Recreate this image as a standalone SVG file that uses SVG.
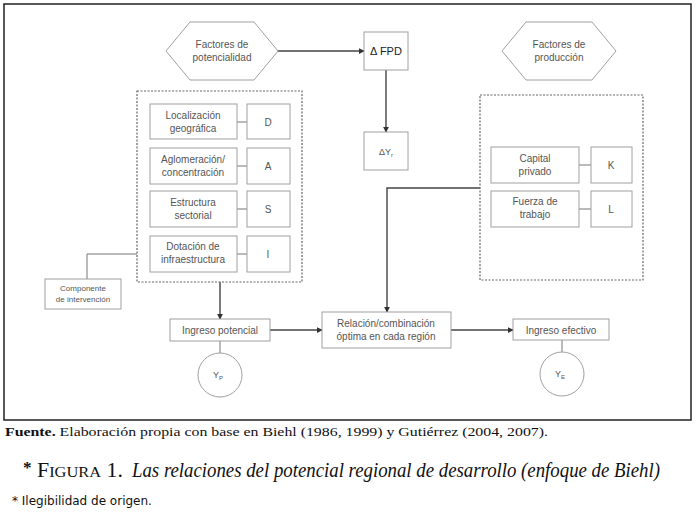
<svg xmlns="http://www.w3.org/2000/svg" width="697" height="520" viewBox="0 0 697 520">
<defs>
<style>
.box{fill:#fff;stroke:#a0a0a0;stroke-width:1}
.dash{fill:none;stroke:#666;stroke-width:1.2;stroke-dasharray:2,1.5}
.t{font-family:"Liberation Sans",Arial,sans-serif;font-size:10px;fill:#555;text-anchor:middle}
.ln{fill:none;stroke:#777;stroke-width:1}
.ar{fill:none;stroke:#444;stroke-width:1.4}
.serif{font-family:"Liberation Serif","Times New Roman",serif;fill:#111}
</style>
<marker id="ah" viewBox="0 0 8 8" refX="7" refY="4" markerWidth="6" markerHeight="6" orient="auto" markerUnits="userSpaceOnUse">
<path d="M0,0 L8,4 L0,8 z" fill="#333"/>
</marker>
</defs>
<rect x="0" y="0" width="697" height="520" fill="#fff"/>
<rect x="4" y="4" width="687" height="416" fill="#fff" stroke="#222" stroke-width="1.5"/>

<g id="connectors">
<path class="ar" d="M278,51 H364" marker-end="url(#ah)"/>
<path class="ar" d="M386,70 V132" marker-end="url(#ah)"/>
<path class="ar" d="M480,188 H387 V312" marker-end="url(#ah)"/>
<path class="ar" d="M220,282 V319" marker-end="url(#ah)"/>
<path class="ar" d="M270,330 H322" marker-end="url(#ah)"/>
<path class="ar" d="M451,330 H513" marker-end="url(#ah)"/>
<path class="ln" d="M237,122 H247 M237,166 H247 M237,209 H247 M237,254 H247"/>
<path class="ln" d="M579,165 H591 M579,209 H591"/>
<path class="ln" d="M87,279 V254 H137"/>
<path class="ln" d="M220,341 V353"/>
<path class="ln" d="M562,340 V352"/>
</g>

<g id="factores-potencialidad">
<polygon class="box" points="166,51 190,22 254,22 278,51 254,80 190,80"/>
<text class="t" x="222" y="48">Factores de</text>
<text class="t" x="222" y="61">potencialidad</text>
</g>
<g id="delta-fpd">
<rect class="box" x="364" y="32" width="44" height="38"/>
<text class="t" x="386" y="55" style="fill:#222;font-size:11px">Δ FPD</text>
</g>
<g id="delta-yr">
<rect class="box" x="364" y="132" width="44" height="38"/>
<text class="t" x="386" y="155" style="font-size:9px">ΔY<tspan font-size="6" dy="2">r</tspan></text>
</g>
<g id="factores-produccion">
<polygon class="box" points="502,51 526,22 592,22 616,51 592,80 526,80"/>
<text class="t" x="559" y="48">Factores de</text>
<text class="t" x="559" y="61">producción</text>
</g>

<g id="grupo-potencialidad">
<rect class="dash" x="137" y="91" width="165" height="191"/>
</g>
<g id="localizacion">
<rect class="box" x="150" y="104" width="87" height="35"/>
<text class="t" x="193" y="119">Localización</text>
<text class="t" x="193" y="132">geográfica</text>
</g>
<g id="D"><rect class="box" x="247" y="104" width="43" height="35"/><text class="t" x="268" y="126">D</text></g>
<g id="aglomeracion">
<rect class="box" x="150" y="148" width="87" height="36"/>
<text class="t" x="193" y="163">Aglomeración/</text>
<text class="t" x="193" y="176">concentración</text>
</g>
<g id="A"><rect class="box" x="247" y="148" width="43" height="36"/><text class="t" x="268" y="170">A</text></g>
<g id="estructura">
<rect class="box" x="150" y="191" width="87" height="36"/>
<text class="t" x="193" y="206">Estructura</text>
<text class="t" x="193" y="219">sectorial</text>
</g>
<g id="S"><rect class="box" x="247" y="191" width="43" height="36"/><text class="t" x="268" y="213">S</text></g>
<g id="dotacion">
<rect class="box" x="150" y="236" width="87" height="36"/>
<text class="t" x="193" y="250">Dotación de</text>
<text class="t" x="193" y="263">infraestructura</text>
</g>
<g id="I"><rect class="box" x="247" y="236" width="43" height="36"/><text class="t" x="268" y="258">I</text></g>

<g id="componente">
<rect class="box" x="45" y="279" width="76" height="30"/>
<text class="t" x="83" y="291" style="font-size:8px">Componente</text>
<text class="t" x="83" y="302" style="font-size:8px">de intervención</text>
</g>

<g id="grupo-produccion">
<rect class="dash" x="480" y="95" width="163" height="185"/>
</g>
<g id="capital">
<rect class="box" x="491" y="147" width="88" height="36"/>
<text class="t" x="535" y="162">Capital</text>
<text class="t" x="535" y="175">privado</text>
</g>
<g id="K"><rect class="box" x="591" y="147" width="41" height="36"/><text class="t" x="611" y="169">K</text></g>
<g id="fuerza">
<rect class="box" x="491" y="191" width="88" height="36"/>
<text class="t" x="535" y="205">Fuerza de</text>
<text class="t" x="535" y="218">trabajo</text>
</g>
<g id="L"><rect class="box" x="591" y="191" width="41" height="36"/><text class="t" x="611" y="213">L</text></g>

<g id="ingreso-potencial">
<rect class="box" x="170" y="319" width="100" height="22"/>
<text class="t" x="220" y="334">Ingreso potencial</text>
</g>
<g id="yp">
<circle class="box" cx="220" cy="375" r="22"/>
<text class="t" x="218" y="378" style="font-size:9px">Y<tspan font-size="6" dy="2">P</tspan></text>
</g>
<g id="relacion">
<rect class="box" x="322" y="312" width="129" height="36"/>
<text class="t" x="386" y="327">Relación/combinación</text>
<text class="t" x="386" y="340">óptima en cada región</text>
</g>
<g id="ingreso-efectivo">
<rect class="box" x="513" y="319" width="96" height="21"/>
<text class="t" x="561" y="334">Ingreso efectivo</text>
</g>
<g id="ye">
<circle class="box" cx="562" cy="374" r="22"/>
<text class="t" x="560" y="377" style="font-size:9px">Y<tspan font-size="6" dy="2">E</tspan></text>
</g>

<text class="serif" x="5" y="436" font-size="12.5" textLength="543" lengthAdjust="spacingAndGlyphs"><tspan font-weight="bold">Fuente.</tspan> Elaboración propia con base en Biehl (1986, 1999) y Gutiérrez (2004, 2007).</text>
<text class="serif" x="23" y="473" font-size="17" font-weight="bold">*</text>
<text class="serif" x="37" y="477" font-size="20" textLength="86" lengthAdjust="spacingAndGlyphs">F<tspan font-size="15">IGURA</tspan> 1.</text>
<text class="serif" x="132" y="477" font-size="20" font-style="italic" textLength="528" lengthAdjust="spacingAndGlyphs">Las relaciones del potencial regional de desarrollo (enfoque de Biehl)</text>
<text x="12" y="505" font-family="'DejaVu Sans',Verdana,sans-serif" font-size="12" fill="#111">* Ilegibilidad de origen.</text>
</svg>
